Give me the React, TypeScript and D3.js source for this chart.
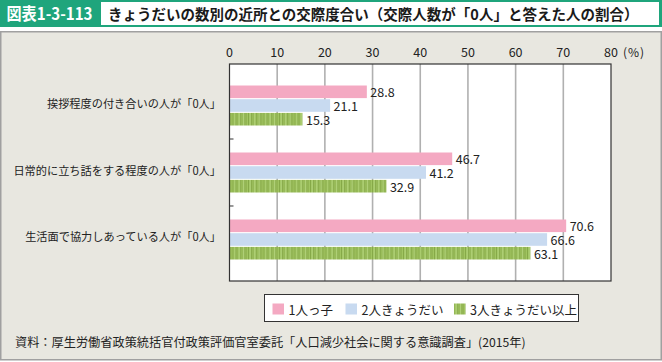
import React from "react";
import * as d3 from "d3";

const categories = [
  "挨拶程度の付き合いの人が「0人」",
  "日常的に立ち話をする程度の人が「0人」",
  "生活面で協力しあっている人が「0人」",
];
const seriesNames = ["1人っ子", "2人きょうだい", "3人きょうだい以上"];
const onlyChild = [28.8, 46.7, 70.6];
const twoSiblings = [21.1, 41.2, 66.6];
const threePlus = [15.3, 32.9, 63.1];
const xTicks = [0, 10, 20, 30, 40, 50, 60, 70, 80];

const W = 662;
const H = 362;
const FONT = "'Noto Sans CJK JP', 'Noto Sans', sans-serif";
const plot = { left: 229.5, right: 611, top: 64, bottom: 281 };
const colors = ["#f4a9c2", "#c8daf0", "url(#greenStripe)"];

export default function App() {
  const values = [onlyChild, twoSiblings, threePlus];
  const x = d3.scaleLinear().domain([0, 80]).range([plot.left, plot.right]);
  const y = d3
    .scaleBand<string>()
    .domain(categories)
    .range([plot.top, plot.bottom])
    .paddingInner(0.403)
    .paddingOuter(0.321);
  const inner = d3
    .scaleBand<string>()
    .domain(seriesNames)
    .range([0, y.bandwidth()])
    .paddingInner(0.08);

  const centers = categories.map((c) => (y(c) as number) + y.bandwidth() / 2);
  const sepTicks = centers.slice(1).map((c, i) => (c + centers[i]) / 2);

  const stripes = [
    [0, 1, "#86a848"],
    [1.8, 0.6, "#b9d886"],
    [3, 1.2, "#86a848"],
    [5, 0.6, "#86a848"],
    [6.3, 0.8, "#b9d886"],
    [7.8, 1, "#86a848"],
    [9.5, 0.6, "#86a848"],
    [10.8, 0.7, "#b9d886"],
    [12, 1.1, "#86a848"],
    [14, 0.6, "#86a848"],
  ];

  return (
    <svg
      width={W}
      height={H}
      style={{ position: "absolute", left: 0, top: 0, fontFamily: FONT }}
    >
      <defs>
        <pattern id="greenStripe" width={15.5} height={20} patternUnits="userSpaceOnUse">
          <rect width={15.5} height={20} fill="#a3c763" />
          {stripes.map(([sx, sw, c], i) => (
            <rect key={i} x={sx as number} y={0} width={sw as number} height={20} fill={c as string} />
          ))}
        </pattern>
      </defs>
      {/* header */}
      <rect x={0} y={0} width={W} height={27} fill="#1fa57c" />
      <rect x={101} y={2} width={558} height={23} fill="#ffffff" />
      <text
        x={6.5}
        y={19.5}
        fill="#ffffff"
        fontSize={16.5}
        fontWeight="bold"
        textLength={86}
        lengthAdjust="spacingAndGlyphs"
      >
        図表1-3-113
      </text>
      <text x={108} y={19.5} fill="#1a1a1a" fontSize={14.5} fontWeight="bold">
        きょうだいの数別の近所との交際度合い（交際人数が「0人」と答えた人の割合）
      </text>
      {/* panel */}
      <rect x={0.75} y={31.75} width={W - 1.5} height={328} fill="#e8e7e0" stroke="#a0a0a0" strokeWidth={1.5} />
      {/* plot */}
      <rect x={plot.left} y={plot.top} width={plot.right - plot.left} height={plot.bottom - plot.top} fill="#ffffff" />
      {xTicks.slice(1, -1).map((t) => (
        <line key={t} x1={x(t)} x2={x(t)} y1={plot.top} y2={plot.bottom} stroke="#b0b0b0" strokeWidth={1.6} />
      ))}
      {categories.map((c, ci) =>
        seriesNames.map((s, si) => {
          const by = (y(c) as number) + (inner(s) as number);
          const v = values[si][ci];
          return (
            <g key={c + s}>
              <rect x={x(0)} y={by} width={x(v) - x(0)} height={inner.bandwidth()} fill={colors[si]} />
              <text
                x={x(v) + 3.5}
                y={by + inner.bandwidth() / 2}
                dominantBaseline="central"
                fontSize={12.5}
                fill="#222"
              >
                {v.toFixed(1)}
              </text>
            </g>
          );
        })
      )}
      <rect
        x={plot.left}
        y={plot.top}
        width={plot.right - plot.left}
        height={plot.bottom - plot.top}
        fill="none"
        stroke="#333"
        strokeWidth={1.2}
      />
      {sepTicks.map((t, i) => (
        <line key={i} x1={plot.left} x2={plot.left + 4} y1={t} y2={t} stroke="#333" strokeWidth={1} />
      ))}
      {xTicks.map((t) => (
        <text key={t} x={x(t)} y={56.5} textAnchor="middle" fontSize={12.5} fill="#222">
          {t}
        </text>
      ))}
      <text x={623} y={56.5} fontSize={12} fill="#222" letterSpacing={1}>
        (%)
      </text>
      {categories.map((c, ci) => (
        <text
          key={c}
          x={221}
          y={centers[ci] - 3}
          textAnchor="end"
          dominantBaseline="central"
          fontSize={11.2}
          fill="#222"
        >
          {c}
        </text>
      ))}
      {/* legend */}
      <rect x={264.5} y={294.5} width={314} height={27} fill="#ffffff" stroke="#333" strokeWidth={1} />
      {seriesNames.map((s, i) => {
        const lx = [272.5, 345.5, 454][i];
        return (
          <g key={s}>
            <rect x={lx} y={303.5} width={11.5} height={11} fill={colors[i]} />
            <text x={lx + 16} y={309} dominantBaseline="central" fontSize={12.5} fill="#222">
              {s}
            </text>
          </g>
        );
      })}
      <text x={15} y={342} dominantBaseline="central" fontSize={12.2} fill="#222">
        資料：厚生労働省政策統括官付政策評価官室委託「人口減少社会に関する意識調査」(2015年)
      </text>
    </svg>
  );
}
